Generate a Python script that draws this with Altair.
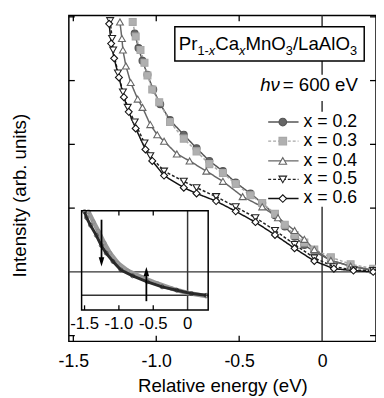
import altair as alt
import pandas as pd

FONT = "Liberation Sans"

# ---------------- data ----------------
labels = ["x = 0.2", "x = 0.3", "x = 0.4", "x = 0.5", "x = 0.6"]

e02 = [-1.130, -1.107, -1.083, -1.053, -1.018, -0.976, -0.917, -0.834, -0.757, -0.680, -0.598,
       -0.521, -0.432, -0.361, -0.284, -0.225, -0.166, -0.107, -0.047, 0.053, 0.172, 0.308]
i02 = [3.74, 3.51, 3.31, 3.09, 2.86, 2.63, 2.38, 2.15, 1.94, 1.74, 1.58,
       1.40, 1.23, 1.08, 0.89, 0.71, 0.55, 0.42, 0.32, 0.18, 0.09, 0.02]

e03 = [-1.142, -1.124, -1.095, -1.071, -1.053, -1.024, -0.982, -0.917, -0.834, -0.757, -0.680, -0.598,
       -0.521, -0.432, -0.361, -0.284, -0.225, -0.166, -0.107, -0.047, 0.053, 0.172, 0.308]
i03 = [3.92, 3.69, 3.48, 3.28, 3.08, 2.86, 2.66, 2.35, 2.09, 1.89, 1.69, 1.55,
       1.38, 1.20, 1.08, 0.91, 0.74, 0.58, 0.46, 0.35, 0.23, 0.12, 0.05]

e04 = [-1.219, -1.207, -1.201, -1.183, -1.154, -1.112, -1.083, -1.036, -0.994, -0.953, -0.876, -0.799,
       -0.698, -0.598, -0.479, -0.361, -0.266, -0.166, -0.107, -0.047, 0.053, 0.172, 0.308]
i04 = [3.92, 3.66, 3.48, 3.23, 2.97, 2.71, 2.58, 2.31, 2.15, 2.05, 1.85, 1.74,
       1.58, 1.42, 1.18, 1.02, 0.85, 0.65, 0.51, 0.35, 0.18, 0.09, 0.03]

e05 = [-1.278, -1.266, -1.260, -1.231, -1.201, -1.172, -1.130, -1.071, -1.036, -0.953, -0.834,
       -0.757, -0.639, -0.521, -0.402, -0.284, -0.166, -0.047, 0.071, 0.189, 0.308]
i05 = [3.94, 3.66, 3.48, 3.12, 2.82, 2.58, 2.35, 2.02, 1.82, 1.58, 1.42,
       1.32, 1.18, 1.02, 0.85, 0.65, 0.43, 0.22, 0.08, 0.03, 0.02]

e06 = [-1.284, -1.272, -1.254, -1.225, -1.195, -1.166, -1.124, -1.065, -1.024, -0.953, -0.834,
       -0.757, -0.639, -0.521, -0.402, -0.284, -0.166, -0.047, 0.071, 0.189, 0.308]
i06 = [3.89, 3.58, 3.35, 3.05, 2.74, 2.51, 2.25, 1.92, 1.74, 1.51, 1.32,
       1.23, 1.11, 0.95, 0.78, 0.58, 0.37, 0.17, 0.05, 0.02, 0.00]

# inset (wide energy range), dark and light traces
ein_dark = [-1.500, -1.471, -1.414, -1.329, -1.257, -1.186, -1.086, -0.971, -0.800, -0.586, -0.371, -0.157, 0.057, 0.271]
iin_dark = [0.99, 0.92, 0.83, 0.71, 0.59, 0.50, 0.40, 0.30, 0.23, 0.16, 0.10, 0.06, 0.02, 0.00]
ein_light = [-1.443, -1.371, -1.300, -1.214, -1.129, -1.014, -0.871, -0.657, -0.443, -0.229, -0.014, 0.271]
iin_light = [0.99, 0.87, 0.76, 0.62, 0.50, 0.38, 0.29, 0.21, 0.14, 0.08, 0.03, -0.01]

main_xticks = [-1.5, -1.0, -0.5, 0.0]
main_yticks = [-1, 1, 2, 3, 4]
inset_xticks = [-1.5, -1.0, -0.5, 0.0]

# ---------------- styles ----------------
line_colors = ["#555555", "#a8a8a8", "#666666", "#222222", "#111111"]
fill_colors = ["#666666", "#b0b0b0", "white", "white", "white"]
shapes = ["circle", "square", "triangle-up", "triangle-down", "diamond"]
dashes = [[1, 0], [3, 2], [1, 0], [3, 2], [1, 0]]

XMIN, XMAX = -1.527, 0.325
YMIN, YMAX = -1.09, 4.02
IXMIN, IXMAX = -1.543, 0.30
IYMIN, IYMAX = -0.174, 1.0

xs = alt.Scale(domain=[XMIN, XMAX], nice=False, zero=False)
ys = alt.Scale(domain=[YMIN, YMAX], nice=False, zero=False)
ixs = alt.Scale(domain=[IXMIN, IXMAX], range=[13, 142], nice=False, zero=False)
iys = alt.Scale(domain=[IYMIN, IYMAX], range=[300, 199], nice=False, zero=False)

stroke_enc = alt.Stroke("series:N", scale=alt.Scale(domain=labels, range=line_colors), legend=None)
fill_enc = alt.Fill("series:N", scale=alt.Scale(domain=labels, range=fill_colors), legend=None)
shape_enc = alt.Shape("series:N", scale=alt.Scale(domain=labels, range=shapes), legend=None)
dash_enc = alt.StrokeDash("series:N", scale=alt.Scale(domain=labels, range=dashes), legend=None)

x_axis = alt.Axis(values=main_xticks,
                  labelExpr="datum.value == 0 ? '0' : (datum.value < 0 ? '-' : '') + format(abs(datum.value), '.1f')",
                  labelFont=FONT, labelFontSize=18, labelColor="black", labelPadding=12, labelFlush=False,
                  ticks=False, tickSize=0, domain=False, grid=False,
                  title="Relative energy (eV)", titleFont=FONT, titleFontSize=19, titleFontWeight="normal",
                  titleColor="black", titleY=51, titleBaseline="alphabetic")
y_axis = alt.Axis(labels=False, ticks=False, tickSize=0, domain=False, grid=False,
                  title="Intensity (arb. units)", titleFont=FONT, titleFontSize=19, titleFontWeight="normal",
                  titleColor="black", titleX=-50, titleY=183, titleAngle=270, titleAlign="center",
                  titleBaseline="middle")


def X(f="E"):
    return alt.X(f"{f}:Q", scale=xs, axis=x_axis, title="Relative energy (eV)")


def Y(f="I"):
    return alt.Y(f"{f}:Q", scale=ys, axis=y_axis, title="Intensity (arb. units)")


def IX(f="E"):
    return alt.X(f"{f}:Q", scale=ixs, axis=None)


def IY(f="I"):
    return alt.Y(f"{f}:Q", scale=iys, axis=None)


rows = []
for lab, es, iis in zip(labels, [e02, e03, e04, e05, e06], [i02, i03, i04, i05, i06]):
    for e, i in zip(es, iis):
        rows.append({"series": lab, "E": e, "I": i})
curves = pd.DataFrame(rows)

# ---------------- main panel ----------------
zero_h = alt.Chart(pd.DataFrame({"E": [XMIN], "E2": [XMAX], "I": [0.0]})).mark_rule(
    color="#333333", strokeWidth=1.5).encode(x=X(), x2="E2:Q", y=Y())
zero_v = alt.Chart(pd.DataFrame({"E": [0.0], "I": [YMIN], "I2": [YMAX]})).mark_rule(
    color="#333333", strokeWidth=1.5).encode(x=X(), y=Y(), y2="I2:Q")

tick_rows = []
tx = 0.09
for v in main_xticks[:3]:
    tick_rows.append({"E": v, "E2": v, "I": YMIN, "I2": YMIN + tx})
    tick_rows.append({"E": v, "E2": v, "I": YMAX, "I2": YMAX - tx})
ty = 0.036
for v in main_yticks:
    tick_rows.append({"E": XMIN, "E2": XMIN + ty, "I": v, "I2": v})
    tick_rows.append({"E": XMAX, "E2": XMAX - ty, "I": v, "I2": v})
ticks = alt.Chart(pd.DataFrame(tick_rows)).mark_rule(color="black", strokeWidth=1.3).encode(
    x=X(), x2="E2:Q", y=Y(), y2="I2:Q")

# white backgrounds behind the legend texts
bg = alt.Chart(pd.DataFrame({"E": [-0.391, -0.343], "E2": [0.237, 0.26],
                             "I": [2.68, 1.02], "I2": [3.09, 2.51]})).mark_rect(
    color="white").encode(x=X(), x2="E2:Q", y=Y(), y2="I2:Q")

lines = alt.Chart(curves).mark_line(strokeWidth=1.5).encode(
    x=X(), y=Y(), stroke=stroke_enc, strokeDash=dash_enc)
points = alt.Chart(curves).mark_point(filled=True, size=50, strokeWidth=1.1, opacity=1).encode(
    x=X(), y=Y(), stroke=stroke_enc, fill=fill_enc, shape=shape_enc)

# legend (drawn by hand)
leg = pd.DataFrame({"series": labels, "I": [2.35, 2.05, 1.74, 1.45, 1.15]})
leg["E"] = -0.325
leg["E2"] = -0.142
leg["Em"] = -0.237
leg["Et"] = -0.112
leg_lines = alt.Chart(leg).mark_rule(strokeWidth=1.4).encode(
    x=X(), x2="E2:Q", y=Y(), stroke=stroke_enc, strokeDash=dash_enc)
leg_pts = alt.Chart(leg).mark_point(filled=True, size=60, strokeWidth=1.1, opacity=1).encode(
    x=X("Em"), y=Y(), stroke=stroke_enc, fill=fill_enc, shape=shape_enc)
leg_txt = alt.Chart(leg).mark_text(align="left", baseline="middle", font=FONT, fontSize=18,
                                   color="black").encode(x=X("Et"), y=Y(), text="series:N")

# h nu text
hv_df = pd.DataFrame({"E": [-0.373], "I": [2.83]})
hv1 = alt.Chart(hv_df).mark_text(text="hν", align="left", baseline="alphabetic", font=FONT,
                                 fontSize=19, fontStyle="italic", color="black").encode(x=X(), y=Y())
hv2 = alt.Chart(hv_df).mark_text(text="= 600 eV", dx=23, align="left", baseline="alphabetic",
                                 font=FONT, fontSize=19, color="black").encode(x=X(), y=Y())

# title box
box = alt.Chart(pd.DataFrame({"E": [-0.888], "E2": [0.254], "I": [3.308], "I2": [3.846]})).mark_rect(
    fill="white", stroke="black", strokeWidth=1.5).encode(x=X(), x2="E2:Q", y=Y(), y2="I2:Q")
t_df = pd.DataFrame({"E": [-0.864], "I": [3.477]})
pieces = [("Pr", 0, 19, "normal", 0), ("1-", 19.0, 13, "normal", 5), ("x", 30.6, 13, "italic", 5),
          ("Ca", 37.1, 19, "normal", 0), ("x", 61.4, 13, "italic", 5), ("MnO", 67.9, 19, "normal", 0),
          ("3", 109.1, 13, "normal", 5), ("/LaAlO", 116.3, 19, "normal", 0), ("3", 174.4, 13, "normal", 5)]
title_layers = [
    alt.Chart(t_df).mark_text(text=t, dx=dx, dy=dy, align="left", baseline="alphabetic", font=FONT,
                              fontSize=fs, fontStyle=st, color="black").encode(x=X(), y=Y())
    for t, dx, fs, st, dy in pieces
]

main = alt.layer(zero_h, zero_v, bg, ticks, lines, points, leg_lines, leg_pts, leg_txt, hv1, hv2, box,
                 *title_layers)

# ---------------- inset ----------------
inset_frame = alt.Chart(pd.DataFrame({"E": [IXMIN], "E2": [IXMAX], "I": [IYMIN], "I2": [IYMAX]})).mark_rect(
    fill="transparent", stroke="black", strokeWidth=1.5).encode(x=IX(), x2="E2:Q", y=IY(), y2="I2:Q")
inset_h = alt.Chart(pd.DataFrame({"E": [IXMIN], "E2": [IXMAX], "I": [0.0]})).mark_rule(
    color="#333333", strokeWidth=1.5).encode(x=IX(), x2="E2:Q", y=IY())
inset_v = alt.Chart(pd.DataFrame({"E": [0.0], "I": [IYMIN], "I2": [IYMAX]})).mark_rule(
    color="#333333", strokeWidth=1.5).encode(x=IX(), y=IY(), y2="I2:Q")
it_rows = []
for v in inset_xticks[:3]:
    it_rows.append({"E": v, "I": IYMIN, "I2": IYMIN + 0.055})
for v in inset_xticks[1:3]:
    it_rows.append({"E": v, "I": IYMAX, "I2": IYMAX - 0.055})
inset_ticks = alt.Chart(pd.DataFrame(it_rows)).mark_rule(color="black", strokeWidth=1.3).encode(
    x=IX(), y=IY(), y2="I2:Q")
inset_lab = alt.Chart(pd.DataFrame({"E": inset_xticks, "I": [IYMIN] * 4})).mark_text(
    dy=14, baseline="middle", align="center", font=FONT, fontSize=17, color="black").encode(
    x=IX(), y=IY(),
    text=alt.Text("lab:N")).transform_calculate(
    lab="datum.E == 0 ? '0' : (datum.E < 0 ? '-' : '') + format(abs(datum.E), '.1f')")

idf_l = pd.DataFrame({"E": ein_light, "I": iin_light})
idf_d = pd.DataFrame({"E": ein_dark, "I": iin_dark})
inset_light = alt.Chart(idf_l).mark_line(color="#999999", strokeWidth=4.5).encode(x=IX(), y=IY())
inset_light_p = alt.Chart(idf_l).mark_point(color="#888888", size=16, strokeWidth=1).encode(x=IX(), y=IY())
inset_dark = alt.Chart(idf_d).mark_line(color="#2a2a2a", strokeWidth=3).encode(x=IX(), y=IY())
inset_dark_p = alt.Chart(idf_d).mark_point(color="#222222", size=16, strokeWidth=1).encode(x=IX(), y=IY())

arr_down = pd.DataFrame({"E": [-1.253], "I": [0.895], "I2": [0.40], "Ih": [0.395]})
arr_up = pd.DataFrame({"E": [-0.60], "I": [-0.07], "I2": [0.28], "Ih": [0.28]})
shaft_d = alt.Chart(arr_down).mark_rule(color="black", strokeWidth=1.8).encode(x=IX(), y=IY(), y2="I2:Q")
shaft_u = alt.Chart(arr_up).mark_rule(color="black", strokeWidth=1.8).encode(x=IX(), y=IY(), y2="I2:Q")
head_d = alt.Chart(arr_down).mark_point(filled=True, color="black", size=90, opacity=1,
                                        shape="M-0.6,-1L0.6,-1L0,1Z").encode(x=IX(), y=IY("Ih"))
head_u = alt.Chart(arr_up).mark_point(filled=True, color="black", size=90, opacity=1,
                                      shape="M-0.6,1L0.6,1L0,-1Z").encode(x=IX(), y=IY("Ih"))

inset = alt.layer(inset_h, inset_v, inset_light, inset_light_p, inset_dark, inset_dark_p,
                  shaft_d, shaft_u, head_d, head_u, inset_ticks, inset_frame, inset_lab)

chart = alt.layer(main, inset).resolve_scale(x="independent", y="independent").properties(
    width=313, height=332, autosize=alt.AutoSizeParams(type="none"),
    padding={"left": 62, "top": 4, "right": 0, "bottom": 54},
    background="white",
).configure_view(stroke="black", strokeWidth=1.5)

chart.save("out.html", embed_options={"renderer": "svg", "actions": False})
